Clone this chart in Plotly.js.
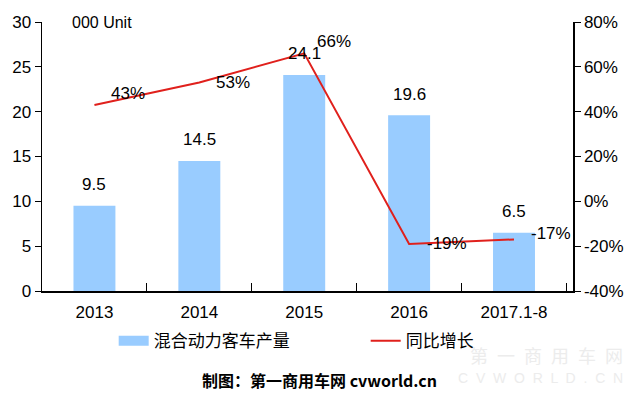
<!DOCTYPE html>
<html>
<head>
<meta charset="utf-8">
<script src="https://cdn.plot.ly/plotly-3.0.1.min.js"></script>
<style>html,body{margin:0;padding:0;background:#fff;}#chart{width:637px;height:396px;}</style>
</head>
<body>
<div id="chart"></div>
<script>
const categories = ['2013', '2014', '2015', '2016', '2017.1-8'];
const production = [9.5, 14.5, 24.1, 19.6, 6.5];
const growth = [43, 53, 66, -19, -17];
const growthLabels = ['43%', '53%', '66%', '-19%', '-17%'];
const leftTicks = [0, 5, 10, 15, 20, 25, 30];
const rightTicks = [-40, -20, 0, 20, 40, 60, 80];
const rightTickText = ['-40%', '-20%', '0%', '20%', '40%', '60%', '80%'];
const barName = '混合动力客车产量';
const lineName = '同比增长';

const font = 'Liberation Sans, Arial, sans-serif';
const cjk = 'Noto Sans CJK SC, sans-serif';
const fs = 17;

const growthShift = [[34, 11], [34, 0], [30, 12], [38, 0], [37, 6]];

const annotations = [];
production.forEach((v, i) => {
  annotations.push({x: i, y: v, xref: 'x', yref: 'y', text: String(v),
    showarrow: false, yshift: 21, font: {family: font, size: fs, color: '#000'}});
});
growth.forEach((v, i) => {
  annotations.push({x: i, y: v, xref: 'x', yref: 'y2', text: growthLabels[i],
    showarrow: false, xshift: growthShift[i][0], yshift: growthShift[i][1],
    font: {family: font, size: fs, color: '#000'}});
});
annotations.push({x: 0.053, y: 1.0, xref: 'paper', yref: 'paper', text: '000 Unit',
  showarrow: false, xanchor: 'left', yanchor: 'middle', font: {family: font, size: 16, color: '#000'}});
annotations.push({x: 0.5, y: -0.33, xref: 'paper', yref: 'paper', yanchor: 'middle', xanchor: 'center',
  text: '<b>制图：第一商用车网 cvworld.cn</b>', showarrow: false, xshift: 12,
  font: {family: cjk, size: 16, color: '#000'}});

const layout = {
  width: 637, height: 396,
  margin: {l: 42, r: 64, t: 22, b: 105},
  paper_bgcolor: '#fff', plot_bgcolor: '#fff',
  showlegend: true,
  legend: {orientation: 'h', x: 0.135, xanchor: 'left', y: -0.12, yanchor: 'top',
    font: {family: cjk, size: 17, color: '#000'}, traceorder: 'normal',
    entrywidth: 207, entrywidthmode: 'pixels'},
  bargap: 0.6,
  xaxis: {type: 'category', showline: true, linecolor: '#000', linewidth: 1.5,
    ticks: 'inside', ticklen: 8, tickcolor: '#000', tickson: 'boundaries', ticklabelstandoff: 5,
    showgrid: false, zeroline: false, tickfont: {family: font, size: fs, color: '#000'}},
  yaxis: {range: [0, 30], tickvals: leftTicks, showline: true, linecolor: '#000', linewidth: 1.5,
    ticks: 'outside', ticklen: 6, tickcolor: '#000', showgrid: false, zeroline: false,
    tickfont: {family: font, size: fs, color: '#000'}},
  yaxis2: {range: [-40, 80], overlaying: 'y', side: 'right', tickvals: rightTicks, ticktext: rightTickText,
    showline: true, linecolor: '#000', linewidth: 1.5, ticks: 'outside', ticklen: 6, tickcolor: '#000',
    showgrid: false, zeroline: false, tickfont: {family: font, size: fs, color: '#000'}},
  annotations: annotations
};

// watermark (decorative)
layout.annotations.push({x: 1.098, y: -0.238, xref: 'paper', yref: 'paper', xanchor: 'right', yanchor: 'middle',
  text: '第\u2002一\u2002商\u2002用\u2002车\u2002网', showarrow: false, font: {family: cjk, size: 18, color: '#ececec'}});
layout.annotations.push({x: 1.098, y: -0.323, xref: 'paper', yref: 'paper', xanchor: 'right', yanchor: 'middle',
  text: 'C  V  W  O  R  L  D  .  C  N', showarrow: false, font: {family: font, size: 14, color: '#ececec'}});

const data = [
  {type: 'bar', name: barName, x: categories, y: production,
    marker: {color: '#99ccff'}, hoverinfo: 'skip', showlegend: false},
  // legend swatch for the bars (wide rectangle like the original)
  {type: 'scatter', mode: 'lines', name: barName, x: [categories[0]], y: [null],
    line: {color: '#99ccff', width: 12}, hoverinfo: 'skip'},
  {type: 'scatter', mode: 'lines', name: lineName, x: categories, y: growth, yaxis: 'y2',
    line: {color: '#e0201c', width: 2}, hoverinfo: 'skip'}
];

Plotly.newPlot('chart', data, layout, {staticPlot: true, displayModeBar: false});
</script>
</body>
</html>
